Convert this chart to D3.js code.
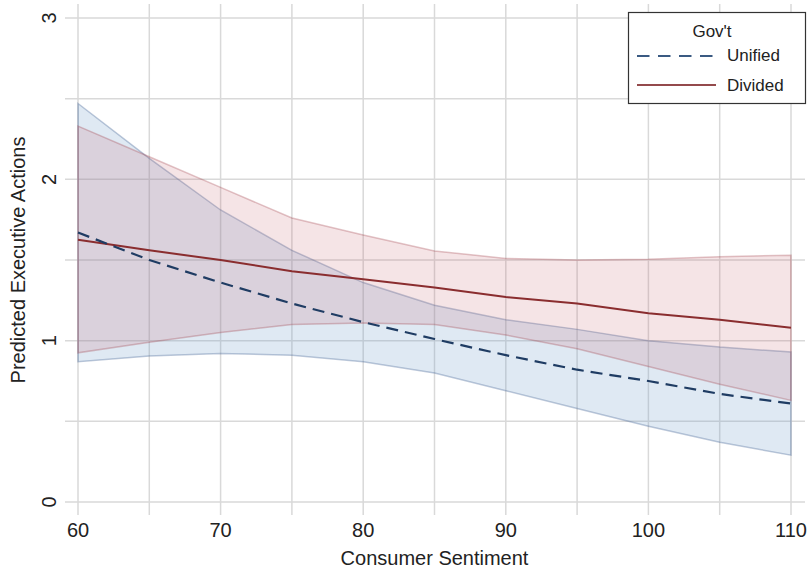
<!DOCTYPE html>
<html lang="en">
<head>
<meta charset="UTF-8" />
<script src="https://d3js.org/d3.v7.min.js"></script>
<style>
  body { margin: 0; background: #fff; }
  text { font-family: "Liberation Sans", Arial, sans-serif; fill: #222; }
</style>
</head>
<body>
<script>
// consumer sentiment values where predictions were computed
var sentiment = [60, 65, 70, 75, 80, 85, 90, 95, 100, 105, 110];

var unifiedMean  = [1.67, 1.50, 1.36, 1.23, 1.115, 1.01, 0.91, 0.82, 0.75, 0.67, 0.61];
var unifiedUpper = [2.47, 2.13, 1.81, 1.56, 1.36, 1.22, 1.13, 1.07, 1.00, 0.96, 0.93];
var unifiedLower = [0.87, 0.905, 0.92, 0.91, 0.87, 0.80, 0.69, 0.58, 0.47, 0.37, 0.29];

var dividedMean  = [1.625, 1.56, 1.50, 1.43, 1.38, 1.33, 1.27, 1.23, 1.17, 1.13, 1.08];
var dividedUpper = [2.33, 2.14, 1.95, 1.76, 1.655, 1.556, 1.51, 1.50, 1.505, 1.52, 1.53];
var dividedLower = [0.925, 0.99, 1.05, 1.10, 1.11, 1.10, 1.035, 0.95, 0.84, 0.73, 0.63];

var xTicks = [60, 70, 80, 90, 100, 110];
var xGrid = [60, 65, 70, 75, 80, 85, 90, 95, 100, 105, 110];
var yTicks = [0, 1, 2, 3];
var yGrid = [0, 0.5, 1, 1.5, 2, 2.5, 3];

var W = 808, H = 572;
var margin = {top: 18, right: 17, bottom: 70, left: 78};

var svg = d3.select("body").append("svg").attr("width", W).attr("height", H);

var x = d3.scaleLinear().domain([60, 110]).range([margin.left, W - margin.right]);
var y = d3.scaleLinear().domain([0, 3]).range([H - margin.bottom, margin.top]);

// grid
svg.append("g").selectAll("line").data(yGrid).enter().append("line")
  .attr("x1", 65).attr("x2", 805)
  .attr("y1", function(d){ return y(d); }).attr("y2", function(d){ return y(d); })
  .attr("stroke", "#d9d9d9").attr("stroke-width", 1.5);
svg.append("g").selectAll("line").data(xGrid).enter().append("line")
  .attr("y1", 4).attr("y2", 515)
  .attr("x1", function(d){ return x(d); }).attr("x2", function(d){ return x(d); })
  .attr("stroke", "#d9d9d9").attr("stroke-width", 1.5);

function band(lo, hi) {
  return d3.area()
    .x(function(d, i){ return x(sentiment[i]); })
    .y0(function(d, i){ return y(lo[i]); })
    .y1(function(d, i){ return y(hi[i]); })(sentiment);
}
function line(vals) {
  return d3.line()
    .x(function(d, i){ return x(sentiment[i]); })
    .y(function(d, i){ return y(vals[i]); })(sentiment);
}

svg.append("path").attr("d", band(unifiedLower, unifiedUpper))
  .attr("fill", "rgba(110,155,200,0.22)")
  .attr("stroke", "rgba(70,100,150,0.35)").attr("stroke-width", 1.5);
svg.append("path").attr("d", band(dividedLower, dividedUpper))
  .attr("fill", "rgba(195,90,100,0.16)")
  .attr("stroke", "rgba(160,60,70,0.3)").attr("stroke-width", 1.5);

svg.append("path").attr("d", line(dividedMean))
  .attr("fill", "none").attr("stroke", "#8a2d2f").attr("stroke-width", 2);
svg.append("path").attr("d", line(unifiedMean))
  .attr("fill", "none").attr("stroke", "#1f3c63").attr("stroke-width", 2.2)
  .attr("stroke-dasharray", "12,7");

// x tick labels
svg.append("g").selectAll("text").data(xTicks).enter().append("text")
  .attr("x", function(d){ return x(d); }).attr("y", 537)
  .attr("text-anchor", "middle").attr("font-size", 20)
  .text(function(d){ return d; });

// y tick labels (rotated)
svg.append("g").selectAll("text").data(yTicks).enter().append("text")
  .attr("transform", function(d){ return "translate(56," + y(d) + ") rotate(-90)"; })
  .attr("text-anchor", "middle").attr("font-size", 20)
  .text(function(d){ return d; });

svg.append("text").attr("x", x(85)).attr("y", 565)
  .attr("text-anchor", "middle").attr("font-size", 20)
  .text("Consumer Sentiment");
svg.append("text")
  .attr("transform", "translate(25," + y(1.5) + ") rotate(-90)")
  .attr("text-anchor", "middle").attr("font-size", 20)
  .text("Predicted Executive Actions");

// legend
var lg = svg.append("g");
lg.append("rect").attr("x", 628.5).attr("y", 12.5).attr("width", 177).attr("height", 91)
  .attr("fill", "#fff").attr("stroke", "#333").attr("stroke-width", 1.2);
lg.append("text").attr("x", 712).attr("y", 37).attr("text-anchor", "middle")
  .attr("font-size", 17).text("Gov't");
lg.append("line").attr("x1", 637).attr("x2", 716).attr("y1", 56).attr("y2", 56)
  .attr("stroke", "#3a5a82").attr("stroke-width", 2).attr("stroke-dasharray", "12.5,8.5");
lg.append("text").attr("x", 727).attr("y", 61).attr("font-size", 17).text("Unified");
lg.append("line").attr("x1", 637).attr("x2", 716).attr("y1", 85).attr("y2", 85)
  .attr("stroke", "#944a4c").attr("stroke-width", 2);
lg.append("text").attr("x", 727).attr("y", 91).attr("font-size", 17).text("Divided");
</script>
</body>
</html>
